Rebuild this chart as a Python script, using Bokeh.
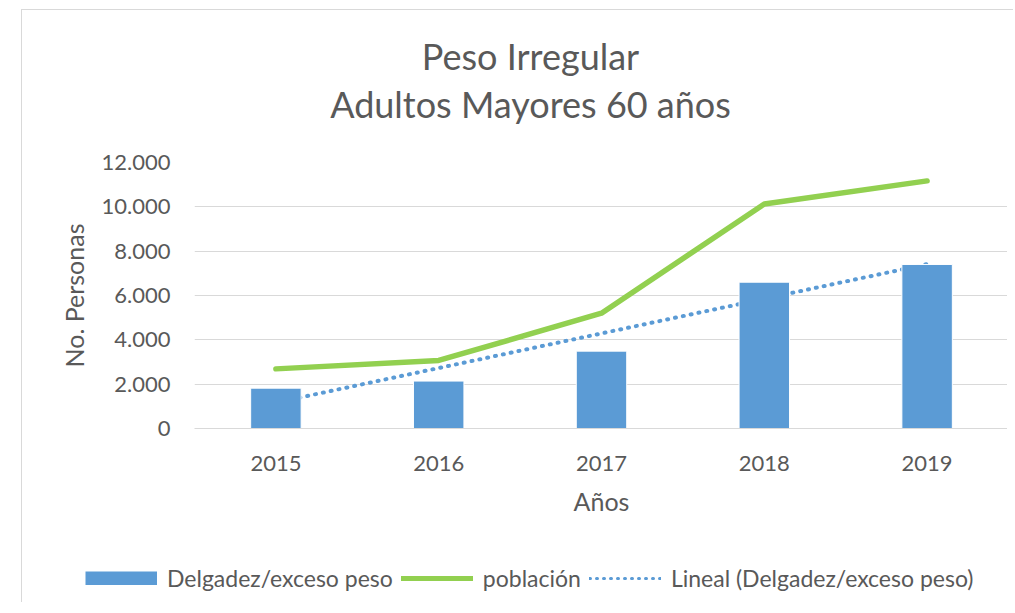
import numpy as np
from bokeh.plotting import figure
from bokeh.models import (FactorRange, FixedTicker, CustomJSTickFormatter, Legend,
                          LegendItem, ColumnDataSource)
from bokeh.core.properties import value
from bokeh.embed import file_html
from bokeh.resources import INLINE

# ---- data ----
years = ["2015", "2016", "2017", "2018", "2019"]
delgadez = [1820, 2140, 3490, 6600, 7400]          # Delgadez/exceso peso (bars)
poblacion = [2690, 3070, 5200, 10130, 11170]       # población (line)
y_ticks = [0, 2000, 4000, 6000, 8000, 10000, 12000]
series_names = ["Delgadez/exceso peso", "población", "Lineal (Delgadez/exceso peso)"]
title_lines = ["Peso Irregular", "Adultos Mayores 60 años"]

# linear trendline of the bar series (Excel "Lineal")
idx = np.arange(1, len(years) + 1)
slope, intercept = np.polyfit(idx, np.array(delgadez, dtype=float), 1)
trend = list(slope * idx + intercept)

TXT = "#595959"
FONT = "Lato"
BAR = "#5B9BD5"
GREEN = "#92D050"
GRID = "#D9D9D9"
BORDER = "1px solid #D9D9D9"
W = 986


def blank(width, height):
    f = figure(width=width, height=height, x_range=(0, width), y_range=(0, height),
               output_backend="svg", toolbar_location=None, title=None,
               min_border=0, min_border_left=0, min_border_right=0,
               min_border_top=0, min_border_bottom=0,
               x_axis_type=None, y_axis_type=None)
    f.outline_line_color = None
    f.grid.visible = False
    f.background_fill_color = "white"
    f.border_fill_color = "white"
    return f


# ---- title strip ----
TH = 140
pt = blank(992, TH)
pt.styles = {"border-top": BORDER, "border-left": BORDER}
pt.margin = (9, 0, 0, 21)
pt.text(x=[508, 508], y=[TH - 45, TH - 93], text=title_lines,
        text_font=value(FONT), text_font_size="36px", text_color=TXT,
        text_align="center", text_baseline="alphabetic")

# ---- main chart ----
p = figure(x_range=FactorRange(*years), y_range=(0, 12000),
           width=W, height=405, output_backend="svg", toolbar_location=None,
           min_border_left=172, min_border_right=0, min_border_top=13,
           min_border_bottom=126)
p.styles = {"border-left": BORDER}
p.margin = (0, 0, 0, 21)
p.outline_line_color = None
p.background_fill_color = "white"
p.border_fill_color = "white"

src = ColumnDataSource(dict(x=years, bar=delgadez, pob=poblacion, trend=trend))

p.line("x", "trend", source=src, line_color=BAR, line_width=4,
       line_dash="1 7", line_cap="round")
p.vbar(x="x", top="bar", width=0.31, source=src, fill_color=BAR,
       line_color="white", line_width=1)
p.line("x", "pob", source=src, line_color=GREEN, line_width=5.5,
       line_cap="round", line_join="round")

p.yaxis.ticker = FixedTicker(ticks=y_ticks)
p.yaxis.formatter = CustomJSTickFormatter(code="""
    return Math.round(tick).toString().replace(/\\B(?=(\\d{3})+(?!\\d))/g, ".");
""")
p.yaxis.axis_line_color = None
p.yaxis.major_tick_line_color = None
p.yaxis.minor_tick_line_color = None
p.yaxis.major_label_text_font = FONT
p.yaxis.major_label_text_font_size = "22px"
p.yaxis.major_label_text_color = TXT
p.yaxis.major_label_standoff = 18
p.yaxis.axis_label = "No. Personas"
p.yaxis.axis_label_text_font = FONT
p.yaxis.axis_label_text_font_size = "25px"
p.yaxis.axis_label_text_color = TXT
p.yaxis.axis_label_text_font_style = "normal"
p.yaxis.axis_label_standoff = 10

p.xaxis.axis_line_color = GRID
p.xaxis.major_tick_line_color = None
p.xaxis.minor_tick_line_color = None
p.xaxis.major_label_text_font = FONT
p.xaxis.major_label_text_font_size = "22px"
p.xaxis.major_label_text_color = TXT
p.xaxis.major_label_standoff = 21
p.xaxis.axis_label = "Años"
p.xaxis.axis_label_text_font = FONT
p.xaxis.axis_label_text_font_size = "25px"
p.xaxis.axis_label_text_color = TXT
p.xaxis.axis_label_text_font_style = "normal"
p.xaxis.axis_label_standoff = 12

p.xgrid.grid_line_color = None
p.ygrid.grid_line_color = GRID
p.ygrid.grid_line_width = 1

# ---- legend strip ----
LH = 48
pl = blank(W, LH)
pl.styles = {"border-left": BORDER}
pl.margin = (0, 0, 0, 21)
# legend swatches (kept outside the visible range)
lg_bar = pl.line(x=[-60, -50], y=[-60, -50], line_color=BAR, line_width=14, line_cap="butt")
lg_line = pl.line(x=[-60, -50], y=[-60, -50], line_color=GREEN, line_width=5, line_cap="round")
lg_trend = pl.line(x=[-60, -50], y=[-60, -50], line_color=BAR, line_width=3,
                   line_dash="1 6", line_cap="round")

legend = Legend(items=[
    LegendItem(label=series_names[0], renderers=[lg_bar]),
    LegendItem(label=series_names[1], renderers=[lg_line]),
    LegendItem(label=series_names[2], renderers=[lg_trend]),
], orientation="horizontal", location=(63, 10))
legend.glyph_width = 72
legend.glyph_height = 14
legend.label_standoff = 10
legend.spacing = 8
legend.padding = 0
legend.margin = 0
legend.border_line_color = None
legend.background_fill_alpha = 0
legend.label_text_font = FONT
legend.label_text_font_size = "23px"
legend.label_text_color = TXT
pl.add_layout(legend, "center")

open("out.html", "w").write(file_html([pt, p, pl], INLINE))
